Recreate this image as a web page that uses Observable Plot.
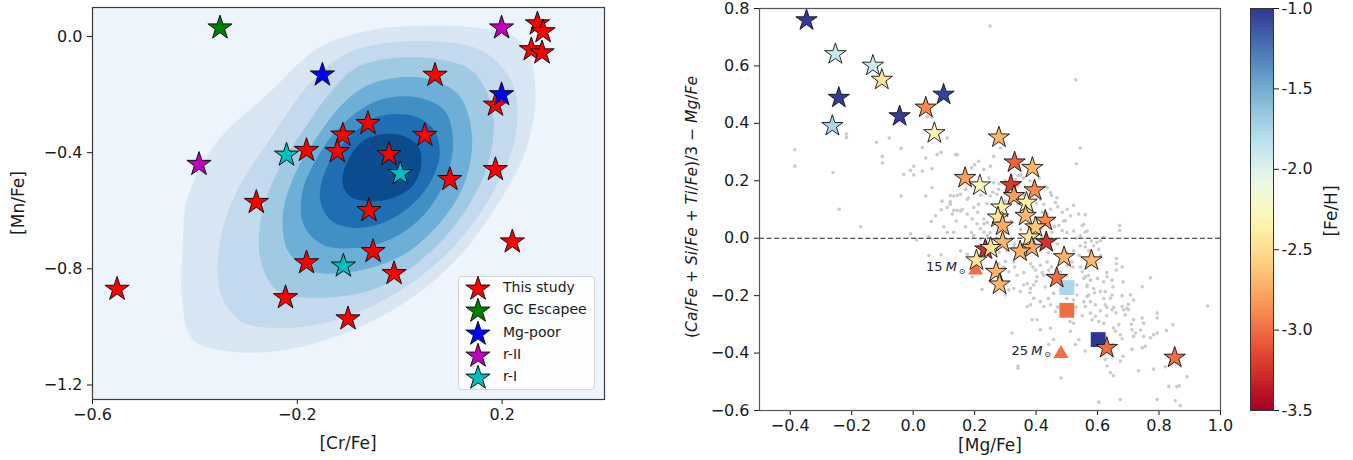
<!DOCTYPE html>
<html>
<head>
<meta charset="utf-8">
<script src="https://cdn.jsdelivr.net/npm/d3@7"></script>
<script src="https://cdn.jsdelivr.net/npm/@observablehq/plot@0.6"></script>
<style>
  body { margin: 0; background: #fff; font-family: "DejaVu Sans", sans-serif; }
  #wrap { position: relative; width: 1353px; height: 460px; overflow: hidden; background: #fff; }
  .panel { position: absolute; top: 0; }
  .lbl { position: absolute; font-size: 17px; color: #1a1a1a; white-space: nowrap; transform: translate(-50%, -50%); }
  .rot { transform: translate(-50%, -50%) rotate(-90deg); }
  #legend { position: absolute; left: 458px; top: 276px; width: 137px; height: 114px; box-sizing: border-box;
            border: 1px solid #d4d4d4; border-radius: 4px; background: rgba(255,255,255,0.8); }
  .lg-row { position: absolute; left: 0; height: 22px; width: 137px; }
  .lg-row svg { position: absolute; left: 5px; top: -2px; }
  .lg-row span { position: absolute; left: 44px; top: 1px; font-size: 14px; color: #1a1a1a; }
</style>
</head>
<body>
<div id="wrap">
  <div id="leftPlot" class="panel" style="left:0px"></div>
  <div id="rightPlot" class="panel" style="left:640px"></div>
  <div id="cbarPlot" class="panel" style="left:1240px"></div>
  <div id="legend"></div>
  <div class="lbl rot" style="left:18px; top:203px">[Mn/Fe]</div>
  <div class="lbl" style="left:348px; top:443px">[Cr/Fe]</div>
  <div class="lbl" style="left:990px; top:445px">[Mg/Fe]</div>
  <div class="lbl rot" style="left:692px; top:207px; font-size:15.5px">(<i>Ca</i>/<i>Fe</i> + <i>Si</i>/<i>Fe</i> + <i>Ti</i>/<i>Fe</i>)/3 − <i>Mg</i>/<i>Fe</i></div>
  <div class="lbl rot" style="left:1331px; top:211px">[Fe/H]</div>
</div>
<script>
// ---------------- LEFT PANEL DATA ----------------
const groups = ["This study", "GC Escapee", "Mg-poor", "r-II", "r-I"];
const groupColors = ["#ff0000", "#008000", "#0000ff", "#bf00bf", "#00bfbf"];

const crFe  = [0.269, 0.280, 0.257, 0.278, 0.069, 0.187, -0.062, -0.111, 0.049, -0.182, -0.122, -0.021, 0.098, 0.187, -0.280, -0.060, 0.220, -0.052, -0.182, -0.011, -0.552, -0.223, -0.101,
               -0.351,
               -0.151, 0.199,
               0.199, -0.392,
               -0.221, 0.001, -0.110];
const mnFe  = [0.044, 0.017, -0.045, -0.056, -0.133, -0.236, -0.299, -0.339, -0.340, -0.392, -0.396, -0.406, -0.492, -0.458, -0.571, -0.599, -0.707, -0.740, -0.779, -0.816, -0.870, -0.899, -0.972,
               0.030,
               -0.132, -0.200,
               0.030, -0.440,
               -0.408, -0.472, -0.790];
const starGroup = ["This study","This study","This study","This study","This study","This study","This study","This study","This study","This study","This study","This study","This study","This study","This study","This study","This study","This study","This study","This study","This study","This study","This study",
               "GC Escapee",
               "Mg-poor","Mg-poor",
               "r-II","r-II",
               "r-I","r-I","r-I"];

const crTicks = [-0.6, -0.2, 0.2];
const mnTicks = [0.0, -0.4, -0.8, -1.2];

// KDE filled contour levels (outer -> inner), [Cr/Fe, Mn/Fe]
const kdeBackground = "#edf4fb";
const kdeColors = ["#d9e7f5", "#c3d9ee", "#a0cae1", "#6eafd7", "#4190c5", "#1f6db2", "#0b4b8f"];
const kdeRings = [
  [[-0.158,-0.038],[-0.058,0.022],[0.041,0.037],[0.148,0.031],[0.227,-0.003],[0.257,-0.084],[0.264,-0.245],[0.241,-0.417],[0.187,-0.590],[0.114,-0.762],[0.015,-0.911],[-0.098,-1.015],[-0.218,-1.078],[-0.324,-1.086],[-0.404,-1.044],[-0.425,-0.911],[-0.424,-0.728],[-0.415,-0.560],[-0.360,-0.370],[-0.251,-0.187]],
  [[-0.092,-0.049],[0.041,-0.015],[0.161,-0.049],[0.221,-0.164],[0.227,-0.337],[0.187,-0.521],[0.121,-0.693],[0.028,-0.843],[-0.092,-0.957],[-0.211,-1.003],[-0.311,-0.980],[-0.351,-0.877],[-0.351,-0.705],[-0.318,-0.532],[-0.251,-0.348],[-0.171,-0.153]],
  [[-0.078,-0.101],[0.041,-0.072],[0.141,-0.118],[0.181,-0.256],[0.174,-0.429],[0.128,-0.601],[0.054,-0.751],[-0.045,-0.866],[-0.158,-0.900],[-0.238,-0.877],[-0.271,-0.774],[-0.271,-0.624],[-0.238,-0.463],[-0.185,-0.314],[-0.132,-0.187]],
  [[-0.058,-0.164],[0.041,-0.141],[0.114,-0.199],[0.141,-0.337],[0.128,-0.498],[0.081,-0.636],[0.008,-0.751],[-0.085,-0.808],[-0.171,-0.808],[-0.218,-0.739],[-0.228,-0.613],[-0.205,-0.475],[-0.158,-0.337],[-0.112,-0.233]],
  [[-0.045,-0.222],[0.035,-0.210],[0.088,-0.256],[0.104,-0.360],[0.091,-0.486],[0.048,-0.613],[-0.012,-0.693],[-0.085,-0.728],[-0.151,-0.716],[-0.188,-0.647],[-0.191,-0.544],[-0.165,-0.429],[-0.118,-0.314]],
  [[-0.039,-0.274],[0.028,-0.274],[0.068,-0.325],[0.078,-0.406],[0.061,-0.498],[0.025,-0.578],[-0.025,-0.636],[-0.085,-0.659],[-0.132,-0.636],[-0.155,-0.567],[-0.148,-0.475],[-0.118,-0.383],[-0.078,-0.314]],
  [[-0.039,-0.337],[0.008,-0.343],[0.038,-0.383],[0.041,-0.452],[0.025,-0.515],[-0.012,-0.555],[-0.058,-0.567],[-0.098,-0.549],[-0.112,-0.498],[-0.098,-0.417],[-0.072,-0.360]]
];

// ---------------- RIGHT PANEL DATA ----------------
const mgFe    = [-0.347,-0.253,-0.131,-0.102,-0.242,0.099,-0.044,0.041,-0.263,0.069,0.279,0.330,0.388,0.169,0.217,0.318,0.395,0.328,0.369,0.287,0.366,0.276,0.430,0.291,0.398,0.378,0.433,0.291,0.386,0.348,0.235,0.252,0.491,0.580,0.206,0.270,0.281,0.467,0.630,0.851];
const alphaMg = [0.759,0.641,0.601,0.552,0.489,0.500,0.425,0.455,0.391,0.366,0.351,0.264,0.245,0.210,0.184,0.185,0.167,0.147,0.124,0.107,0.078,0.072,0.061,0.044,0.038,0.003,-0.014,-0.014,-0.033,-0.046,-0.039,-0.034,-0.066,-0.077,-0.077,-0.117,-0.161,-0.138,-0.382,-0.416];
const feH     = [-1.02,-1.90,-1.92,-2.45,-1.02,-1.05,-1.02,-2.90,-1.75,-2.30,-2.70,-3.05,-2.70,-2.80,-2.25,-3.20,-2.88,-2.80,-2.35,-2.35,-2.70,-2.45,-2.90,-2.75,-2.62,-2.45,-3.25,-2.70,-2.75,-2.72,-3.25,-2.45,-2.70,-2.70,-2.45,-2.70,-2.70,-3.00,-3.00,-3.00];

const sqMg = [0.500, 0.500, 0.602];
const sqAlpha = [-0.172, -0.251, -0.353];
const sqFeH = [-1.75, -3.0, -1.0];

const triMg = [0.203, 0.481];
const triAlpha = [-0.111, -0.402];
const triFeH = [-3.0, -3.0];
const triMass = ["15", "25"];

const mgTicks = [-0.4, -0.2, 0.0, 0.2, 0.4, 0.6, 0.8, 1.0];
const alphaTicks = [-0.6, -0.4, -0.2, 0.0, 0.2, 0.4, 0.6, 0.8];
const feTicks = [-3.5, -3.0, -2.5, -2.0, -1.5, -1.0];

// comparison field stars (grey points), [Mg/Fe, alpha - Mg]
const fieldStars = [
[-0.385,0.308],[-0.385,0.251],[-0.217,0.363],[-0.217,0.351],[-0.261,0.229],[-0.241,0.101],[-0.171,0.040],[-0.119,0.334],[-0.078,0.349],[-0.100,0.285],[-0.100,0.262],[-0.039,0.313],[-0.031,0.222],[-0.009,0.236],[0.002,0.251],[0.002,0.220],[-0.039,0.147],[0.030,0.316],[0.041,0.279],[0.030,0.233],[0.061,0.242],[0.061,0.176],[0.041,0.147],[0.091,0.299],[0.111,0.349],[0.143,0.291],[0.094,0.129],[0.121,0.149],[0.121,0.127],[0.111,0.107],[0.091,0.099],[0.132,0.097],[0.143,0.097],[0.143,0.149],[0.073,0.078],[0.059,0.058],[0.100,0.040],[0.111,0.020],[-0.009,0.015],[0.011,-0.006],[0.051,0.006],[0.051,-0.060],[0.091,-0.058],[0.046,0.423],[0.062,0.421],[0.250,0.739],[0.529,0.552],[0.078,0.291],[0.138,0.291],
[0.544,0.314],[0.531,0.259],[0.284,0.314],[0.262,0.285],[0.200,0.256],[0.190,0.245],[0.213,0.268],[0.230,0.239],[0.251,0.251],[0.342,0.218],[0.359,0.210],[0.436,0.176],[0.447,0.159],[0.468,0.141],[0.463,0.124],[0.522,0.115],[0.501,0.101],[0.512,0.078],[0.539,0.084],[0.555,0.048],[0.566,0.025],[0.522,0.025],[0.544,0.008],[0.457,0.067],[0.474,0.044],[0.485,0.027],[0.452,0.021],[0.121,0.118],[0.132,0.147],[0.154,0.153],[0.170,0.170],[0.176,0.136],[0.127,0.084],[0.154,0.095],[0.176,0.084],[0.197,0.107],[0.213,0.118],[0.192,0.067],[0.208,0.050],[0.219,0.033],[0.230,0.067],[0.241,0.055],[0.132,0.021],[0.197,0.009],[0.219,-0.003],[0.241,0.009],[0.230,0.021],[0.246,0.210],[0.262,0.193],[0.278,0.170],[0.251,0.147],[0.273,0.153],[0.333,0.204],[0.343,0.187],[0.305,0.176],[0.414,0.136],[0.425,0.118],[0.447,0.101],[0.436,0.084],[0.485,0.090],[0.495,0.061],[0.414,0.033],[0.544,-0.026],[0.560,-0.015],[0.571,-0.044],[0.522,-0.044],[0.403,-0.003],[0.382,-0.015],[0.360,-0.026],[0.327,-0.032],[0.305,-0.044],[0.262,-0.050],[0.230,-0.056],[0.154,-0.044],[0.176,-0.056],
[0.560,0.082],[0.672,0.044],[0.672,0.027],[0.550,0.044],[0.560,0.021],[0.598,-0.015],[0.609,-0.009],[0.620,0.003],[0.587,-0.026],[0.604,-0.038],[0.661,-0.071],[0.661,-0.089],[0.680,-0.100],[0.661,-0.111],[0.550,-0.117],[0.560,-0.134],[0.577,-0.146],[0.566,-0.163],[0.587,-0.175],[0.631,-0.134],[0.647,-0.146],[0.620,-0.152],[0.683,-0.152],[0.772,-0.138],[0.745,-0.169],[0.609,-0.186],[0.625,-0.186],[0.647,-0.198],[0.642,-0.209],[0.566,-0.203],[0.577,-0.221],[0.593,-0.232],[0.560,-0.238],[0.717,-0.215],[0.707,-0.198],[0.680,-0.238],[0.696,-0.244],[0.958,-0.236],[0.631,-0.241],[0.647,-0.249],[0.609,-0.253],
[0.625,-0.232],[0.652,-0.241],[0.685,-0.249],[0.701,-0.249],[0.577,-0.261],[0.593,-0.272],[0.582,-0.284],[0.604,-0.290],[0.620,-0.296],[0.690,-0.267],[0.717,-0.284],[0.745,-0.278],[0.750,-0.296],[0.794,-0.261],[0.794,-0.278],[0.824,-0.322],[0.652,-0.313],[0.669,-0.301],[0.658,-0.324],[0.674,-0.336],[0.712,-0.319],[0.723,-0.330],[0.717,-0.342],[0.750,-0.342],[0.772,-0.347],[0.782,-0.336],[0.794,-0.330],[0.560,-0.393],[0.625,-0.422],[0.631,-0.445],[0.674,-0.428],[0.683,-0.411],[0.712,-0.387],[0.745,-0.382],[0.755,-0.376],[0.733,-0.462],[0.782,-0.456],[0.820,-0.448],[0.891,-0.483],[0.858,-0.517],[0.642,-0.468],[0.652,-0.479],[0.604,-0.571],[0.674,-0.562],[0.794,-0.562],[0.853,-0.566],[0.869,-0.583],[0.832,-0.516],[0.845,-0.301],[0.866,-0.514],
[0.327,-0.083],[0.360,-0.066],[0.382,-0.089],[0.398,-0.111],[0.414,-0.094],[0.436,-0.083],[0.441,-0.111],[0.425,-0.129],[0.403,-0.134],[0.544,-0.100],[0.555,-0.140],[0.533,-0.163],[0.566,-0.169],[0.533,-0.198],[0.571,-0.198],[0.555,-0.221],[0.522,-0.215],[0.457,-0.192],[0.447,-0.232],[0.463,-0.255],[0.392,-0.209],[0.414,-0.221],[0.425,-0.238],[0.382,-0.232],[0.371,-0.238],[0.349,-0.186],[0.360,-0.163],[0.327,-0.175],[0.300,-0.198],[0.311,-0.180],[0.224,-0.178],[0.192,-0.134],[0.322,-0.330],[0.387,-0.284],[0.403,-0.284],[0.414,-0.319],[0.447,-0.313],[0.457,-0.353],[0.441,-0.370],[0.512,-0.324],[0.522,-0.296],[0.539,-0.353],[0.528,-0.370],[0.341,-0.445],[0.341,-0.453],[0.481,-0.487],[0.479,-0.117],[0.501,-0.094],[0.517,-0.083],[0.338,-0.129],[0.311,-0.117],[0.295,-0.100],[0.278,-0.089],[0.371,-0.158],[0.382,-0.175],[0.392,-0.163],
[0.30,0.20],[0.32,0.22],[0.28,0.19],[0.26,0.16],[0.30,0.13],[0.34,0.12],[0.36,0.15],[0.38,0.10],[0.40,0.12],[0.42,0.09],[0.44,0.06],[0.46,0.04],[0.40,0.05],[0.35,0.03],[0.32,0.06],[0.30,0.02],[0.27,0.00],[0.33,-0.02],[0.37,-0.05],[0.41,-0.03],[0.44,-0.05],[0.47,-0.02],[0.50,-0.05],[0.48,-0.08],[0.45,-0.10],[0.42,-0.12],[0.39,-0.10],[0.36,-0.12],[0.33,-0.10],[0.30,-0.08],[0.28,-0.05],[0.25,0.02],[0.23,0.05],[0.21,0.09],[0.19,0.02],[0.52,-0.10],[0.54,-0.06],[0.56,-0.03],[0.58,-0.01],[0.53,0.00],[0.50,0.02],[0.49,0.06],[0.47,0.11],[0.45,0.15],[0.43,0.18],[0.41,0.21],[0.38,0.20],[0.35,0.22],[0.34,0.18],[0.31,0.16],[0.29,0.10],[0.26,0.08],[0.24,0.12],[0.22,0.15],[0.20,0.18],[0.18,0.14],[0.16,0.10],[0.14,0.06],[0.17,0.04],[0.12,0.12],
[0.50,-0.13],[0.52,-0.16],[0.48,-0.18],[0.46,-0.15],[0.43,-0.17],[0.40,-0.15],[0.38,-0.19],[0.44,-0.21],[0.50,-0.21],[0.47,-0.24],[0.53,-0.24],[0.55,-0.27],[0.51,-0.29],[0.49,-0.27],[0.58,-0.09],[0.61,-0.06],[0.63,-0.12],[0.60,-0.14],[0.65,-0.17],[0.62,-0.21],[0.59,-0.19],[0.57,-0.13],[0.68,-0.20],[0.70,-0.23],[0.66,-0.26],[0.63,-0.27],[0.71,-0.30],[0.74,-0.32],[0.68,-0.35],[0.65,-0.37]
];

// ---------------- BUILD TABLES ----------------
const leftStars = crFe.map((x, i) => ({cr: x, mn: mnFe[i], group: starGroup[i]}));
const ourStars = mgFe.map((x, i) => ({mg: x, a: alphaMg[i], feh: feH[i]}));
const squares = sqMg.map((x, i) => ({mg: x, a: sqAlpha[i], feh: sqFeH[i]}));
const tris = triMg.map((x, i) => ({mg: x, a: triAlpha[i], feh: triFeH[i], mass: triMass[i]}));

const fmt = d3.format(".1f");
const STAR_R_LEFT = 7.6;
const STAR_R_RIGHT = 6.7;
const font = {fontFamily: "DejaVu Sans", fontSize: "16px", color: "#1a1a1a", background: "transparent", overflow: "visible"};

// ---------------- LEFT PLOT ----------------
const left = Plot.plot({
  width: 620, height: 460,
  marginLeft: 92, marginRight: 16, marginTop: 7, marginBottom: 61,
  style: font,
  x: {domain: [-0.6, 0.4], ticks: crTicks, tickFormat: fmt, label: null, tickSize: 5, tickPadding: 4},
  y: {domain: [-1.25, 0.1], ticks: mnTicks, tickFormat: fmt, label: null, tickSize: 5, tickPadding: 5},
  color: {domain: groups, range: groupColors},
  marks: [
    Plot.frame({fill: kdeBackground, stroke: null}),
    ...kdeRings.map((ring, i) => Plot.line(ring, {x: d => d[0], y: d => d[1], fill: kdeColors[i], stroke: "none", curve: "catmull-rom-closed"})),
    Plot.dot(leftStars, {x: "cr", y: "mn", fill: "group", symbol: "star", r: STAR_R_LEFT, stroke: "#111", strokeWidth: 1}),
    Plot.frame({stroke: "#3a3a3a", strokeWidth: 1.2})
  ]
});
document.getElementById("leftPlot").append(left);

// ---------------- RIGHT PLOT ----------------
const colorScale = {type: "linear", domain: [-3.5, -1.0], scheme: "RdYlBu"};
const right = Plot.plot({
  width: 600, height: 460,
  marginLeft: 119, marginRight: 20, marginTop: 8, marginBottom: 50,
  style: font,
  x: {domain: [-0.5, 1.0], ticks: mgTicks, tickFormat: fmt, label: null, tickSize: 5, tickPadding: 4},
  y: {domain: [-0.6, 0.8], ticks: alphaTicks, tickFormat: fmt, label: null, tickSize: 5, tickPadding: 5},
  color: colorScale,
  marks: [
    Plot.dot(fieldStars, {x: d => d[0], y: d => d[1], r: 1.8, fill: "#cbcbcb"}),
    Plot.ruleY([0], {stroke: "#222", strokeWidth: 1.1, strokeDasharray: "5,2.6"}),
    Plot.dot(squares, {x: "mg", y: "a", fill: "feh", symbol: "square", r: 8.4}),
    Plot.dot(tris, {x: "mg", y: "a", fill: "feh", symbol: "triangle", r: 5.6}),
    Plot.text(tris, {x: "mg", y: "a", text: "mass", textAnchor: "end", lineAnchor: "middle", dx: -33, dy: -3, fontSize: 13, fill: "#222"}),
    Plot.text(tris, {x: "mg", y: "a", text: () => "M", textAnchor: "end", lineAnchor: "middle", dx: -18.5, dy: -3, fontSize: 13, fontStyle: "italic", fill: "#222"}),
    Plot.text(tris, {x: "mg", y: "a", text: () => "\u2299", textAnchor: "end", lineAnchor: "middle", dx: -10, dy: 1, fontSize: 8, fill: "#222"}),
    Plot.dot(ourStars, {x: "mg", y: "a", fill: "feh", symbol: "star", r: STAR_R_RIGHT, stroke: "#111", strokeWidth: 0.9}),
    Plot.frame({stroke: "#555", strokeWidth: 1.2})
  ]
});
document.getElementById("rightPlot").append(right);

// ---------------- COLORBAR ----------------
const cbStep = 0.01;
const cbSteps = d3.range(-3.5, -1.0, cbStep);
const cbar = Plot.plot({
  width: 113, height: 460,
  marginLeft: 10, marginRight: 80, marginTop: 8, marginBottom: 50,
  style: font,
  x: {domain: [0, 1], axis: null},
  y: {domain: [-3.5, -1.0], ticks: feTicks, tickFormat: d => d.toFixed(1), label: null, axis: "right", tickSize: 5, tickPadding: 3},
  color: colorScale,
  marks: [
    Plot.rect(cbSteps, {x1: 0, x2: 1, y1: d => d, y2: d => Math.min(-1.0, d + cbStep * 1.6), fill: d => d + cbStep / 2}),
    Plot.frame({stroke: "#333", strokeWidth: 1})
  ]
});
document.getElementById("cbarPlot").append(cbar);

// ---------------- LEFT LEGEND ----------------
const legend = d3.select("#legend");
const starPath = d3.symbol(d3.symbolStar, Math.PI * STAR_R_LEFT * STAR_R_LEFT)();
groups.forEach((g, i) => {
  const row = legend.append("div").attr("class", "lg-row").style("top", (i * 22.3 + 1) + "px");
  const svg = row.append("svg").attr("width", 30).attr("height", 26);
  svg.append("path").attr("d", starPath).attr("transform", "translate(14,13)")
     .attr("fill", groupColors[i]).attr("stroke", "#111").attr("stroke-width", 1);
  row.append("span").text(g);
});
</script>
</body>
</html>
